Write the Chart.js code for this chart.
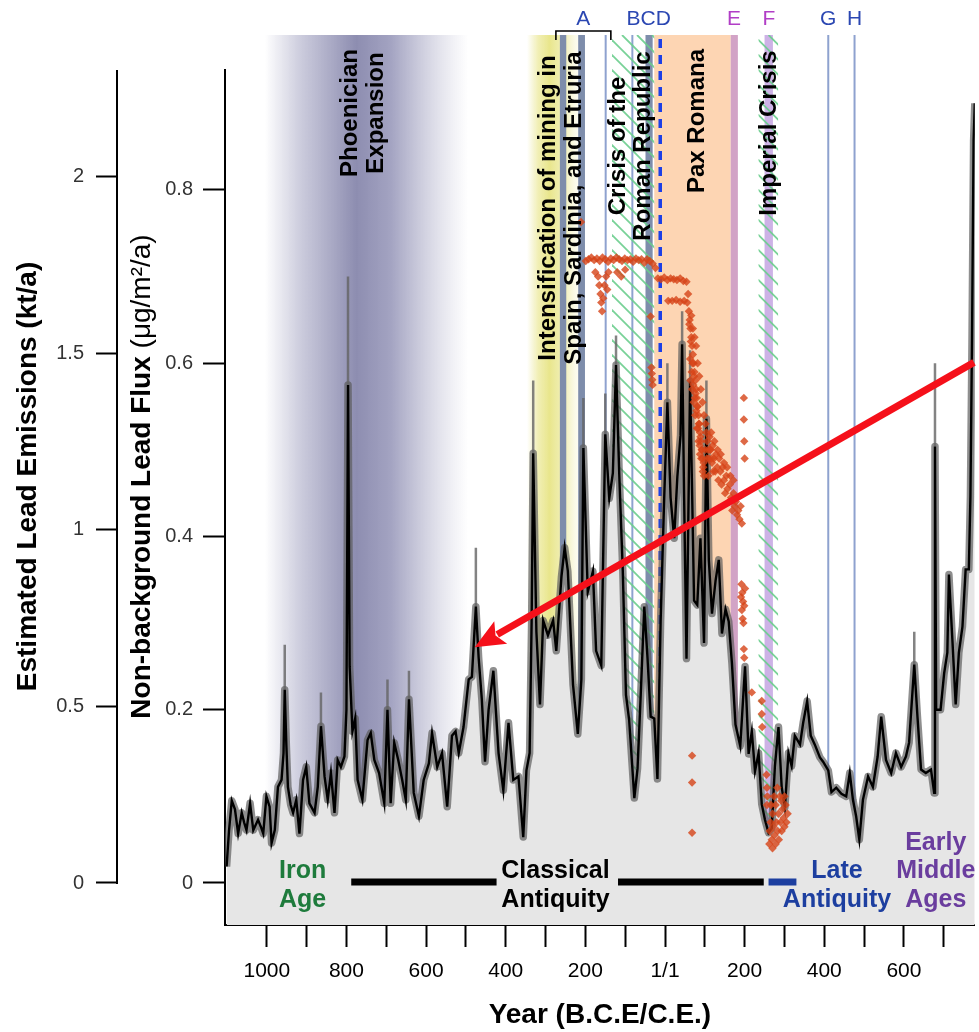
<!DOCTYPE html>
<html lang="en">
<head>
<meta charset="UTF-8">
<title>Lead pollution in Greenland ice, 1100 BCE - 800 CE</title>
<script src="https://cdn.jsdelivr.net/npm/chart.js"></script>
<style>
  body { margin: 0; background: #fff; }
  canvas { display: block; }
</style>
</head>
<body>
<canvas id="grafico" width="979" height="1032"></canvas>
<script>
// ---- data ----
// black curve: non-background lead flux (ug/m2/a) by year (negative = BCE)
const curveYears = [
  -1101,-1095,-1088,-1080,-1072,-1063,-1057,-1051,-1042,-1034,
  -1022,-1015,-1009,-1001,-993,-988,-980,-972,-963,-958,
  -955,-951,-947,-940,-934,-926,-918,-909,-901,-893,
  -880,-872,-864,-855,-847,-839,-830,-822,-814,-805,
  -800,-796,-792,-785,-778,-772,-760,-747,-739,-730,
  -718,-705,-697,-689,-680,-670,-660,-651,-643,-631,
  -618,-606,-593,-585,-572,-560,-547,-535,-526,-518,
  -506,-493,-485,-475,-468,-460,-452,-443,-431,-418,
  -406,-393,-381,-368,-356,-348,-340,-335,-331,-323,
  -314,-306,-294,-281,-273,-260,-252,-244,-231,-219,
  -210,-205,-194,-181,-173,-160,-150,-140,-131,-123,
  -115,-106,-98,-90,-77,-69,-61,-52,-44,-36,
  -27,-19,-11,-2,6,14,23,31,39,43,
  48,54,63,73,81,89,98,104,110,118,
  127,135,143,152,160,168,177,189,201,210,
  218,226,235,243,251,260,268,276,285,293,
  301,310,318,326,339,347,357,366,376,389,
  397,410,418,430,443,455,464,472,480,488,
  497,510,522,534,543,555,568,580,593,605,
  613,626,634,643,655,668,676,678,681,692,
  701,709,713,722,730,738,747,755,763,767,
  771,775,778
];
const curveFlux = [
  0.019,0.06,0.095,0.085,0.057,0.081,0.07,0.061,0.092,0.061,
  0.073,0.065,0.057,0.1,0.088,0.046,0.061,0.111,0.119,0.15,
  0.223,0.16,0.111,0.09,0.081,0.096,0.057,0.119,0.134,0.092,
  0.081,0.111,0.181,0.123,0.096,0.127,0.081,0.142,0.134,0.146,
  0.2,0.575,0.25,0.175,0.19,0.119,0.096,0.165,0.173,0.142,
  0.127,0.092,0.2,0.092,0.162,0.142,0.119,0.096,0.212,0.104,
  0.077,0.119,0.138,0.173,0.134,0.15,0.088,0.17,0.175,0.15,
  0.18,0.235,0.238,0.319,0.26,0.212,0.14,0.2,0.245,0.15,
  0.107,0.185,0.119,0.123,0.053,0.13,0.15,0.3,0.496,0.29,
  0.206,0.303,0.286,0.303,0.268,0.354,0.387,0.36,0.229,0.172,
  0.235,0.502,0.336,0.36,0.268,0.251,0.518,0.444,0.473,0.598,
  0.473,0.36,0.217,0.188,0.098,0.132,0.217,0.319,0.26,0.192,
  0.19,0.12,0.302,0.445,0.555,0.445,0.398,0.469,0.517,0.622,
  0.445,0.259,0.579,0.326,0.321,0.398,0.277,0.536,0.373,0.311,
  0.349,0.373,0.288,0.316,0.302,0.254,0.183,0.158,0.25,0.149,
  0.175,0.129,0.15,0.091,0.073,0.058,0.063,0.135,0.18,0.111,
  0.087,0.15,0.135,0.17,0.16,0.185,0.21,0.17,0.16,0.145,
  0.14,0.13,0.105,0.11,0.103,0.1,0.127,0.096,0.077,0.05,
  0.096,0.123,0.111,0.146,0.192,0.142,0.127,0.15,0.134,0.146,
  0.162,0.252,0.192,0.131,0.127,0.131,0.104,0.504,0.2,0.2,
  0.242,0.266,0.356,0.278,0.206,0.266,0.296,0.362,0.362,0.446,
  0.628,0.857,0.9
];

// upper end of the grey uncertainty at the sharp spikes
const tipYears = [-955,-864,-796,-697,-643,-475,-331,-205,-150,-123,6,43,63,104,626,678];
const tipBase  = [0.223,0.181,0.575,0.2,0.212,0.319,0.496,0.502,0.518,0.598,0.555,0.622,0.579,0.536,0.252,0.504];
const tipTop   = [0.275,0.22,0.70,0.235,0.245,0.387,0.58,0.56,0.565,0.632,0.60,0.66,0.615,0.58,0.29,0.60];

// orange-red diamonds (second record)
const pointYears = [
  -211,-199,-192,-185,-178,-171,-164,-157,-150,-143,
  -136,-129,-122,-115,-108,-101,-94,-87,-80,-73,
  -66,-59,-52,-45,-38,-31,-24,-175,-168,-165,
  -162,-160,-158,-155,-152,-148,-145,-142,-120,-110,
  -100,-36,-34,-33,-32,-31,-18,-10,-2,6,
  14,22,30,38,46,54,8,18,28,38,
  48,56,58,60,62,64,66,68,70,72,
  74,76,78,80,82,84,86,88,90,92,
  94,96,98,63,67,71,75,79,83,87,
  91,95,66,70,74,78,82,86,90,94,
  98,102,106,64,68,72,76,80,84,88,
  104,108,110,112,115,118,120,123,126,128,
  131,134,136,139,142,145,148,151,154,157,
  160,163,166,169,172,175,178,181,184,187,
  190,193,116,124,132,140,148,156,164,172,
  198,198,199,200,192,194,196,193,195,197,
  191,199,201,198,199,218,243,243,244,255,
  256,257,256,263,265,268,270,272,275,278,
  280,283,285,288,290,293,295,298,300,303,
  305,308,266,274,282,292,300,262,270,278,
  286,68,68,68,61,65,69,73,77,81,
  85,89,93,97,101,105,109,113,117,121
];
const pointFlux = [
  0.763,0.718,0.72,0.722,0.719,0.721,0.718,0.722,0.72,0.717,
  0.721,0.719,0.722,0.72,0.718,0.721,0.719,0.72,0.717,0.721,
  0.719,0.72,0.716,0.72,0.718,0.715,0.71,0.705,0.7,0.69,
  0.68,0.67,0.66,0.675,0.69,0.7,0.685,0.705,0.705,0.7,
  0.708,0.654,0.595,0.588,0.581,0.575,0.698,0.697,0.699,0.696,
  0.698,0.697,0.696,0.698,0.695,0.694,0.672,0.672,0.673,0.671,
  0.672,0.67,0.68,0.66,0.65,0.64,0.63,0.62,0.61,0.6,
  0.59,0.58,0.57,0.56,0.55,0.54,0.53,0.52,0.51,0.5,
  0.49,0.48,0.47,0.605,0.59,0.575,0.56,0.545,0.525,0.505,
  0.49,0.475,0.655,0.64,0.63,0.62,0.6,0.585,0.57,0.555,
  0.54,0.53,0.51,0.58,0.57,0.555,0.54,0.525,0.51,0.495,
  0.52,0.5,0.49,0.515,0.5,0.485,0.505,0.49,0.475,0.495,
  0.48,0.465,0.49,0.475,0.46,0.48,0.465,0.45,0.47,0.455,
  0.44,0.46,0.445,0.43,0.45,0.435,0.44,0.425,0.43,0.42,
  0.435,0.415,0.52,0.51,0.5,0.495,0.485,0.48,0.47,0.465,
  0.56,0.535,0.51,0.49,0.345,0.335,0.325,0.315,0.305,0.3,
  0.33,0.32,0.34,0.27,0.26,0.22,0.21,0.195,0.18,0.125,
  0.11,0.1,0.09,0.06,0.07,0.05,0.08,0.065,0.055,0.09,
  0.07,0.06,0.08,0.1,0.07,0.06,0.085,0.075,0.065,0.09,
  0.07,0.08,0.09,0.1,0.11,0.095,0.1,0.045,0.04,0.045,
  0.05,0.147,0.116,0.058,0.645,0.625,0.6,0.585,0.565,0.55,
  0.53,0.515,0.5,0.485,0.5,0.49,0.47,0.5,0.49,0.475
];

// ticks
const yearTicks = [-1000,-900,-800,-700,-600,-500,-400,-300,-200,-100,0,100,200,300,400,500,600,700];
const yearTickLabels = ['1000','','800','','600','','400','','200','','1/1','','200','','400','','600',''];
const fluxTicks = [0, 0.2, 0.4, 0.6, 0.8];
const fluxTickLabels = ['0', '0.2', '0.4', '0.6', '0.8'];
const emissionTicks = [0, 0.5, 1, 1.5, 2];
const emissionTickLabels = ['0', '0.5', '1', '1.5', '2'];

// historical periods / events (years)
const phoenicianSpan = [-1005, -495];
const miningSpan = [-347, -205];
const paxRomanaSpan = [-27, 165];
const warBars = [[-264, -248], [-218, -201], [-49, -31]];
const plagueBars = [[165, 183], [250, 271]];
const crisisSpans = [[-133, -27], [235, 284]];
const eventLines = [-149, -82, 410, 476];
const eventDashed = -12;
const bracketSpan = [-274, -136];
const arrowFrom = [776, 0.601];
const arrowTo = [-478, 0.272];

const FONT = "'Liberation Sans', Arial, Helvetica, sans-serif";
const BLUE = '#2b47b2';
const MAGENTA = '#b13ec6';

const eventMarks = [
  { text: 'A', year: -205, color: BLUE },
  { text: 'BCD', year: -41, color: BLUE },
  { text: 'E', year: 173, color: MAGENTA },
  { text: 'F', year: 261, color: MAGENTA },
  { text: 'G', year: 410, color: BLUE },
  { text: 'H', year: 476, color: BLUE }
];
// rotated labels on the shaded bands (mid = offset below plot top)
const bandNotes = [
  { lines: ['Phoenician', 'Expansion'], year: -758, mid: 43, gap: 26 },
  { lines: ['Intensification of mining in', 'Spain, Sardinia, and Etruria'], year: -261, mid: 138, gap: 26 },
  { lines: ['Crisis of the', 'Roman Republic'], year: -85, mid: 76, gap: 25 },
  { lines: ['Pax Romana'], year: 81, mid: 51, gap: 0 },
  { lines: ['Imperial Crisis'], year: 261, mid: 63, gap: 0 }
];
const periodNotes = [
  { lines: ['Iron', 'Age'], year: -910, color: '#1e7b3c' },
  { lines: ['Classical', 'Antiquity'], year: -275, color: '#000' },
  { lines: ['Late', 'Antiquity'], year: 432, color: '#1d3fa0' },
  { lines: ['Early', 'Middle', 'Ages'], year: 680, color: '#6a3d9e' }
];
const periodBars = [
  { span: [-788, -423], color: '#000' },
  { span: [-118, 248], color: '#000' },
  { span: [260, 330], color: '#1d3fa0' }
];

// build library data from the arrays
const curve = curveYears.map((x, i) => ({ x: x, y: curveFlux[i] }));
const tips = [];
tipYears.forEach((x, i) => {
  tips.push({ x: x, y: tipBase[i] }, { x: x, y: tipTop[i] }, { x: x, y: null });
});
const points = pointYears.map((x, i) => ({ x: x, y: pointFlux[i] }));

function rotatedText(c, text, x, y, font, color) {
  c.save();
  c.translate(x, y);
  c.rotate(-Math.PI / 2);
  c.font = font;
  c.fillStyle = color;
  c.textAlign = 'center';
  c.textBaseline = 'middle';
  c.fillText(text, 0, 0);
  c.restore();
}

const decor = {
  id: 'decor',
  beforeDatasetsDraw(chart) {
    const c = chart.ctx, a = chart.chartArea, xs = chart.scales.x;
    const px = v => xs.getPixelForValue(v);
    const top = a.top - 35, h = a.bottom - top;
    c.save();
    c.beginPath();
    c.rect(a.left, top, a.right - a.left, h);
    c.clip();

    // Phoenician expansion - soft purple-grey gradient
    let x0 = px(phoenicianSpan[0]), x1 = px(phoenicianSpan[1]);
    let g = c.createLinearGradient(x0, 0, x1, 0);
    g.addColorStop(0, 'rgba(140,140,178,0)');
    g.addColorStop(0.18, 'rgba(140,140,178,0.45)');
    g.addColorStop(0.45, 'rgba(135,135,172,0.95)');
    g.addColorStop(0.62, 'rgba(140,140,178,0.8)');
    g.addColorStop(0.85, 'rgba(155,155,188,0.3)');
    g.addColorStop(1, 'rgba(165,165,195,0)');
    c.fillStyle = g;
    c.fillRect(x0, top, x1 - x0, h);

    // mining intensification - yellow
    x0 = px(miningSpan[0]); x1 = px(miningSpan[1]);
    g = c.createLinearGradient(x0, 0, x1, 0);
    g.addColorStop(0, 'rgba(236,233,160,0)');
    g.addColorStop(0.2, 'rgba(236,233,155,0.75)');
    g.addColorStop(0.4, 'rgba(233,230,140,1)');
    g.addColorStop(0.7, 'rgba(240,238,178,0.8)');
    g.addColorStop(1, 'rgba(248,247,215,0)');
    c.fillStyle = g;
    c.fillRect(x0, top, x1 - x0, h);

    // Pax Romana
    c.fillStyle = '#fdd5b3';
    c.fillRect(px(paxRomanaSpan[0]), top, px(paxRomanaSpan[1]) - px(paxRomanaSpan[0]), h);

    // wars (A, C)
    c.fillStyle = '#7e8dab';
    warBars.forEach(s => c.fillRect(px(s[0]), top, px(s[1]) - px(s[0]), h));
    // plagues (E, F)
    c.fillStyle = '#d2a3c6';
    c.fillRect(px(plagueBars[0][0]), top, px(plagueBars[0][1]) - px(plagueBars[0][0]), h);
    c.fillStyle = '#cdb2e6';
    c.fillRect(px(plagueBars[1][0]), top, px(plagueBars[1][1]) - px(plagueBars[1][0]), h);

    // thin event lines
    c.strokeStyle = '#8ea2cf';
    c.lineWidth = 2;
    eventLines.forEach(v => {
      c.beginPath(); c.moveTo(px(v), top); c.lineTo(px(v), a.bottom); c.stroke();
    });

    // crises - green hatching
    crisisSpans.forEach(s => {
      const l = px(s[0]), r = px(s[1]);
      c.save();
      c.beginPath(); c.rect(l, top, r - l, h); c.clip();
      c.strokeStyle = 'rgba(105,205,140,0.9)';
      c.lineWidth = 1.8;
      for (let k = l - h; k < r; k += 15) {
        c.beginPath(); c.moveTo(k, top); c.lineTo(k + h, top + h); c.stroke();
      }
      c.restore();
    });

    // D - dashed blue line
    c.strokeStyle = '#1c3fe6';
    c.lineWidth = 3.5;
    c.setLineDash([9, 7]);
    c.beginPath(); c.moveTo(px(eventDashed), top + 4); c.lineTo(px(eventDashed), a.bottom); c.stroke();
    c.setLineDash([]);
    c.restore();
  },

  afterDatasetsDraw(chart) {
    const c = chart.ctx, a = chart.chartArea, xs = chart.scales.x, ys = chart.scales.y;
    const px = v => xs.getPixelForValue(v);

    // rotated band labels
    bandNotes.forEach(n => {
      const cx = px(n.year);
      n.lines.forEach((t, i) => {
        const x = cx + (i - (n.lines.length - 1) / 2) * n.gap;
        rotatedText(c, t, x, a.top + n.mid, 'bold 24px ' + FONT, '#000');
      });
    });

    // period bars and labels along the bottom
    c.save();
    c.lineWidth = 7;
    periodBars.forEach(b => {
      c.strokeStyle = b.color;
      c.beginPath(); c.moveTo(px(b.span[0]), a.bottom - 43); c.lineTo(px(b.span[1]), a.bottom - 43); c.stroke();
    });
    c.font = 'bold 25px ' + FONT;
    c.textAlign = 'center';
    c.textBaseline = 'middle';
    periodNotes.forEach(n => {
      c.fillStyle = n.color;
      const last = n.lines.length - 1;
      n.lines.forEach((t, i) => c.fillText(t, px(n.year), a.bottom - 25 - (last - i) * 28.5));
    });

    // red arrow
    const ax0 = px(arrowFrom[0]), ay0 = ys.getPixelForValue(arrowFrom[1]);
    const ax1 = px(arrowTo[0]), ay1 = ys.getPixelForValue(arrowTo[1]);
    const ang = Math.atan2(ay1 - ay0, ax1 - ax0);
    const headLen = 30, headW = 13;
    const bx = ax1 - headLen * Math.cos(ang), by = ay1 - headLen * Math.sin(ang);
    c.strokeStyle = '#f5101a';
    c.fillStyle = '#f5101a';
    c.lineWidth = 7;
    c.beginPath(); c.moveTo(ax0, ay0); c.lineTo(bx + 4 * Math.cos(ang), by + 4 * Math.sin(ang)); c.stroke();
    c.beginPath();
    c.moveTo(ax1, ay1);
    c.lineTo(bx + headW * Math.sin(ang), by - headW * Math.cos(ang));
    c.lineTo(bx + 6 * Math.cos(ang), by + 6 * Math.sin(ang));
    c.lineTo(bx - headW * Math.sin(ang), by + headW * Math.cos(ang));
    c.closePath();
    c.fill();
    c.restore();
  },

  afterDraw(chart) {
    const c = chart.ctx, a = chart.chartArea, xs = chart.scales.x;
    const ys = chart.scales.y, es = chart.scales.y2;
    const px = v => xs.getPixelForValue(v);

    // outer axis line (stops at zero)
    c.save();
    c.strokeStyle = '#000';
    c.lineWidth = 2;
    c.beginPath(); c.moveTo(es.right - 1, a.top); c.lineTo(es.right - 1, es.getPixelForValue(0) + 1); c.stroke();

    // axis titles
    const midY = (ys.getPixelForValue(0) + a.top) / 2;
    rotatedText(c, 'Estimated Lead Emissions (kt/a)', es.left + 28, midY, 'bold 28px ' + FONT, '#000');
    const p1 = 'Non-background Lead Flux ', p2 = '(\u03BCg/m\u00B2/a)';
    c.translate(ys.left + 24, midY);
    c.rotate(-Math.PI / 2);
    c.textBaseline = 'middle';
    c.textAlign = 'left';
    c.fillStyle = '#000';
    c.font = 'bold 28px ' + FONT;
    const w1 = c.measureText(p1).width;
    c.font = '28px ' + FONT;
    const w2 = c.measureText(p2).width;
    c.font = 'bold 28px ' + FONT;
    c.fillText(p1, -(w1 + w2) / 2, 0);
    c.font = '28px ' + FONT;
    c.fillText(p2, -(w1 + w2) / 2 + w1, 0);
    c.restore();

    // event letters above the plot
    c.save();
    c.font = '21px ' + FONT;
    c.textAlign = 'center';
    c.textBaseline = 'middle';
    eventMarks.forEach(m => {
      c.fillStyle = m.color;
      c.fillText(m.text, px(m.year), a.top - 51);
    });
    c.strokeStyle = '#000';
    c.lineWidth = 1.6;
    c.beginPath();
    c.moveTo(px(bracketSpan[0]), a.top - 30);
    c.lineTo(px(bracketSpan[0]), a.top - 39);
    c.lineTo(px(bracketSpan[1]), a.top - 39);
    c.lineTo(px(bracketSpan[1]), a.top - 30);
    c.stroke();
    c.restore();
  }
};

Chart.defaults.font.family = FONT;
Chart.defaults.color = '#000';

const ctx = document.getElementById('grafico');

new Chart(ctx, {
  type: 'line',
  data: {
    datasets: [
      {
        type: 'scatter', label: 'second record', data: points, yAxisID: 'y', order: 0,
        pointStyle: 'rectRot', pointRadius: 4.2, pointBackgroundColor: 'rgba(214,68,24,0.8)',
        pointBorderWidth: 0, backgroundColor: 'rgba(214,68,24,0.8)', borderWidth: 0
      },
      {
        label: 'flux', data: curve, yAxisID: 'y', order: 1,
        borderColor: '#000', borderWidth: 2.4, pointRadius: 0, fill: false, tension: 0
      },
      {
        label: 'spike uncertainty', data: tips, yAxisID: 'y', order: 2,
        borderColor: 'rgba(100,100,100,0.8)', borderWidth: 2.5, pointRadius: 0, fill: false, spanGaps: false
      },
      {
        label: 'uncertainty', data: curve, yAxisID: 'y', order: 3,
        borderColor: 'rgba(90,90,90,0.68)', borderWidth: 7.5, borderJoinStyle: 'round', pointRadius: 0, fill: false
      },
      {
        label: 'area', data: curve, yAxisID: 'y', order: 4,
        borderWidth: 0, borderColor: 'rgba(0,0,0,0)', backgroundColor: '#e6e6e6', fill: 'start', pointRadius: 0
      }
    ]
  },
  options: {
    responsive: false,
    animation: false,
    devicePixelRatio: 1,
    layout: { padding: { top: 70, left: 0, right: 0, bottom: 0 } },
    plugins: { legend: { display: false }, tooltip: { enabled: false } },
    scales: {
      x: {
        type: 'linear', position: 'bottom', min: -1105, max: 778,
        afterBuildTicks: s => { s.ticks = yearTicks.map(v => ({ value: v })); },
        afterFit: s => { s.height = 107; },
        ticks: {
          autoSkip: false, maxRotation: 0, padding: 12, color: '#000',
          font: { size: 21 },
          callback: (v, i) => yearTickLabels[i]
        },
        grid: { drawOnChartArea: false, drawTicks: true, tickLength: 22, tickWidth: 2, tickColor: '#000' },
        border: { display: true, color: '#000', width: 2 },
        title: { display: true, text: 'Year (B.C.E/C.E.)', font: { size: 28, weight: 'bold' }, color: '#000', padding: { top: 0, bottom: 0 } }
      },
      y2: {
        type: 'linear', position: 'left', weight: 10, min: -0.119, max: 2.303,
        afterBuildTicks: s => { s.ticks = emissionTicks.map(v => ({ value: v })); },
        afterFit: s => { s.width = 118; },
        ticks: { padding: 12, color: '#333', font: { size: 20 }, callback: (v, i) => emissionTickLabels[i] },
        grid: { drawOnChartArea: false, drawTicks: true, tickLength: 22, tickWidth: 2, tickColor: '#000' },
        border: { display: false },
        title: { display: false }
      },
      y: {
        type: 'linear', position: 'left', weight: 0, min: -0.0485, max: 0.9385,
        afterBuildTicks: s => { s.ticks = fluxTicks.map(v => ({ value: v })); },
        afterFit: s => { s.width = 107; },
        ticks: { padding: 10, color: '#333', font: { size: 20 }, callback: (v, i) => fluxTickLabels[i] },
        grid: { drawOnChartArea: false, drawTicks: true, tickLength: 22, tickWidth: 2, tickColor: '#000' },
        border: { display: true, color: '#000', width: 2 },
        title: { display: false }
      }
    }
  },
  plugins: [decor]
});
</script>
</body>
</html>
